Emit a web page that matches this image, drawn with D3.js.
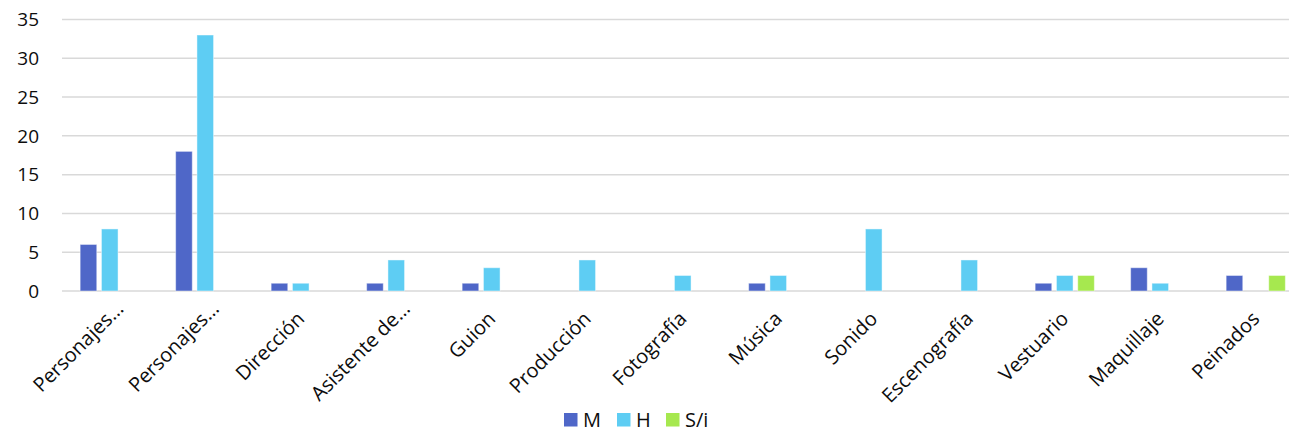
<!DOCTYPE html>
<html>
<head>
<meta charset="utf-8">
<script src="https://cdn.jsdelivr.net/npm/d3@7"></script>
<style>
  html, body { margin: 0; padding: 0; background: #fff; }
  svg { display: block; font-family: "Open Sans", "Noto Sans", sans-serif; }
</style>
</head>
<body>
<svg id="chart" width="1289" height="437"></svg>
<script>
// Roles in the film crew and cast
const categories = ["Personajes…", "Personajes…", "Dirección", "Asistente de…", "Guion",
  "Producción", "Fotografía", "Música", "Sonido", "Escenografía", "Vestuario", "Maquillaje", "Peinados"];
const seriesNames = ["M", "H", "S/i"];
const valuesM   = [6, 18, 1, 1, 1, 0, 0, 1, 0, 0, 1, 3, 2];
const valuesH   = [8, 33, 1, 4, 3, 4, 2, 2, 8, 4, 2, 1, 0];
const valuesSi  = [0, 0, 0, 0, 0, 0, 0, 0, 0, 0, 2, 0, 2];
const yTicks = [0, 5, 10, 15, 20, 25, 30, 35];
const colors = ["#4f67c8", "#5ecdf3", "#a6e84f"];

const seriesValues = [valuesM, valuesH, valuesSi];
const svg = d3.select("#chart");

const left = 62, bandStep = 95.5;
const y = d3.scaleLinear().domain([0, 35]).range([291, 19.5]);

// categories are keyed by index since two labels repeat
const x0 = d3.scaleBand()
  .domain(d3.range(categories.length))
  .range([left, left + bandStep * categories.length])
  .paddingInner(0.38)
  .paddingOuter(0.19);
const x1 = d3.scaleBand()
  .domain(seriesNames)
  .range([0, x0.bandwidth()])
  .paddingInner(0.22);

// horizontal gridlines
svg.append("g")
  .selectAll("line")
  .data(yTicks)
  .join("line")
  .attr("x1", left)
  .attr("x2", left + bandStep * categories.length)
  .attr("y1", d => y(d))
  .attr("y2", d => y(d))
  .attr("stroke", "#d9d9d9")
  .attr("stroke-width", 1.5);

// y tick labels
svg.append("g")
  .selectAll("text")
  .data(yTicks)
  .join("text")
  .attr("x", 39)
  .attr("y", d => y(d))
  .attr("dy", "0.36em")
  .attr("text-anchor", "end")
  .attr("font-size", 19)
  .attr("fill", "#0d0d0d")
  .text(d => d);

// bars
const rows = [];
categories.forEach((c, i) => {
  seriesNames.forEach((s, j) => {
    rows.push({ i, s, j, v: seriesValues[j][i] });
  });
});

svg.append("g")
  .selectAll("rect")
  .data(rows.filter(d => d.v > 0))
  .join("rect")
  .attr("x", d => x0(d.i) + x1(d.s))
  .attr("y", d => y(d.v))
  .attr("width", x1.bandwidth())
  .attr("height", d => y(0) - y(d.v))
  .attr("fill", d => colors[d.j])
  .attr("stroke", "#ffffff")
  .attr("stroke-opacity", 0.45)
  .attr("stroke-width", 1);

// rotated category labels
svg.append("g")
  .selectAll("text")
  .data(categories)
  .join("text")
  .attr("transform", (d, i) => `translate(${x0(i) + x0.bandwidth() / 2 + 5},320) rotate(-45)`)
  .attr("dx", d => d.endsWith("…") ? 14 : 0)
  .attr("text-anchor", "end")
  .attr("font-size", 20)
  .attr("fill", "#0d0d0d")
  .text(d => d);

// legend
const legendItems = [
  { name: "M", x: 564 },
  { name: "H", x: 617 },
  { name: "S/i", x: 666 }
];
const lg = svg.append("g")
  .selectAll("g")
  .data(legendItems)
  .join("g")
  .attr("transform", d => `translate(${d.x},413)`);
lg.append("rect")
  .attr("width", 13.5)
  .attr("height", 13.5)
  .attr("fill", (d, i) => colors[i]);
lg.append("text")
  .attr("x", 19)
  .attr("y", 14)
  .attr("font-size", 20)
  .attr("fill", "#0d0d0d")
  .text(d => d.name);
</script>
</body>
</html>
